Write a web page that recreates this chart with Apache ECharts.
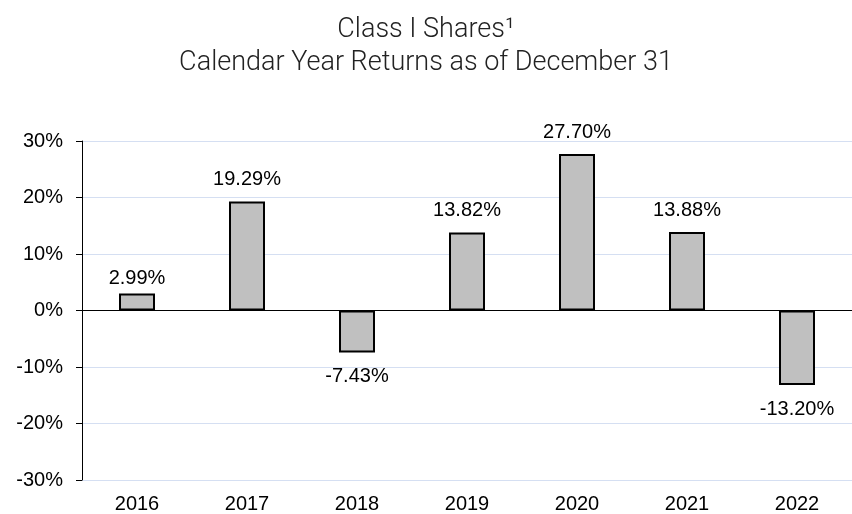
<!DOCTYPE html>
<html>
<head>
<meta charset="utf-8">
<script src="https://cdn.jsdelivr.net/npm/echarts@6/dist/echarts.min.js"></script>
<style>html,body{margin:0;padding:0;background:#fff;}#c{width:852px;height:514px;}</style>
</head>
<body>
<div id="c"></div>
<script>
const categories = ['2016','2017','2018','2019','2020','2021','2022'];
const returns = [2.99, 19.29, -7.43, 13.82, 27.70, 13.88, -13.20];
const yTicks = [-30, -20, -10, 0, 10, 20, 30];

const LABEL_FONT = "'Liberation Sans', Arial, Helvetica, sans-serif";
const chart = echarts.init(document.getElementById('c'), null, {renderer:'canvas'});
chart.setOption({
  animation: false,
  backgroundColor: '#fff',
  title: [
    {text: 'Class I Shares\u00B9', left: 'center', top: 12,
     textStyle: {fontFamily: 'Roboto', fontWeight: 300, fontSize: 27, lineHeight: 27, color: '#222'}},
    {text: 'Calendar Year Returns as of December 31', left: 'center', top: 45,
     textStyle: {fontFamily: 'Roboto', fontWeight: 300, fontSize: 27, lineHeight: 27, color: '#222'}}
  ],
  grid: {left: 82, right: 0, top: 141, bottom: 33, containLabel: false},
  xAxis: {
    type: 'category', data: categories,
    axisLine: {show: false, onZero: false},
    axisTick: {show: false},
    axisLabel: {fontFamily: LABEL_FONT, fontSize: 20, color: '#000', margin: 14}
  },
  yAxis: {
    type: 'value', min: yTicks[0], max: yTicks[yTicks.length-1], interval: 10,
    axisLine: {show: true, lineStyle: {color: '#000', width: 1}},
    axisTick: {show: true, length: 6, lineStyle: {color: '#000'}},
    axisLabel: {formatter: v => v + '%', fontFamily: LABEL_FONT, fontSize: 20, color: '#000', margin: 19},
    splitLine: {show: true, lineStyle: {color: '#d5dff2', width: 1}}
  },
  series: [{
    type: 'bar',
    barWidth: 36,
    data: returns.map((v, i) => ({
      value: v,
      label: {position: v >= 0 ? 'top' : 'bottom', distance: v < 0 ? 14 : (i === 0 ? 5 : 12)}
    })),
    itemStyle: {color: '#c0c0c0', borderColor: '#000', borderWidth: 2},
    label: {show: true, formatter: p => p.value.toFixed(2) + '%', fontFamily: LABEL_FONT, fontSize: 20, color: '#000'},
    markLine: {
      silent: true, symbol: 'none', label: {show: false},
      lineStyle: {color: '#000', width: 1, type: 'solid'},
      data: [{yAxis: 0}]
    }
  }]
});
</script>
</body>
</html>
